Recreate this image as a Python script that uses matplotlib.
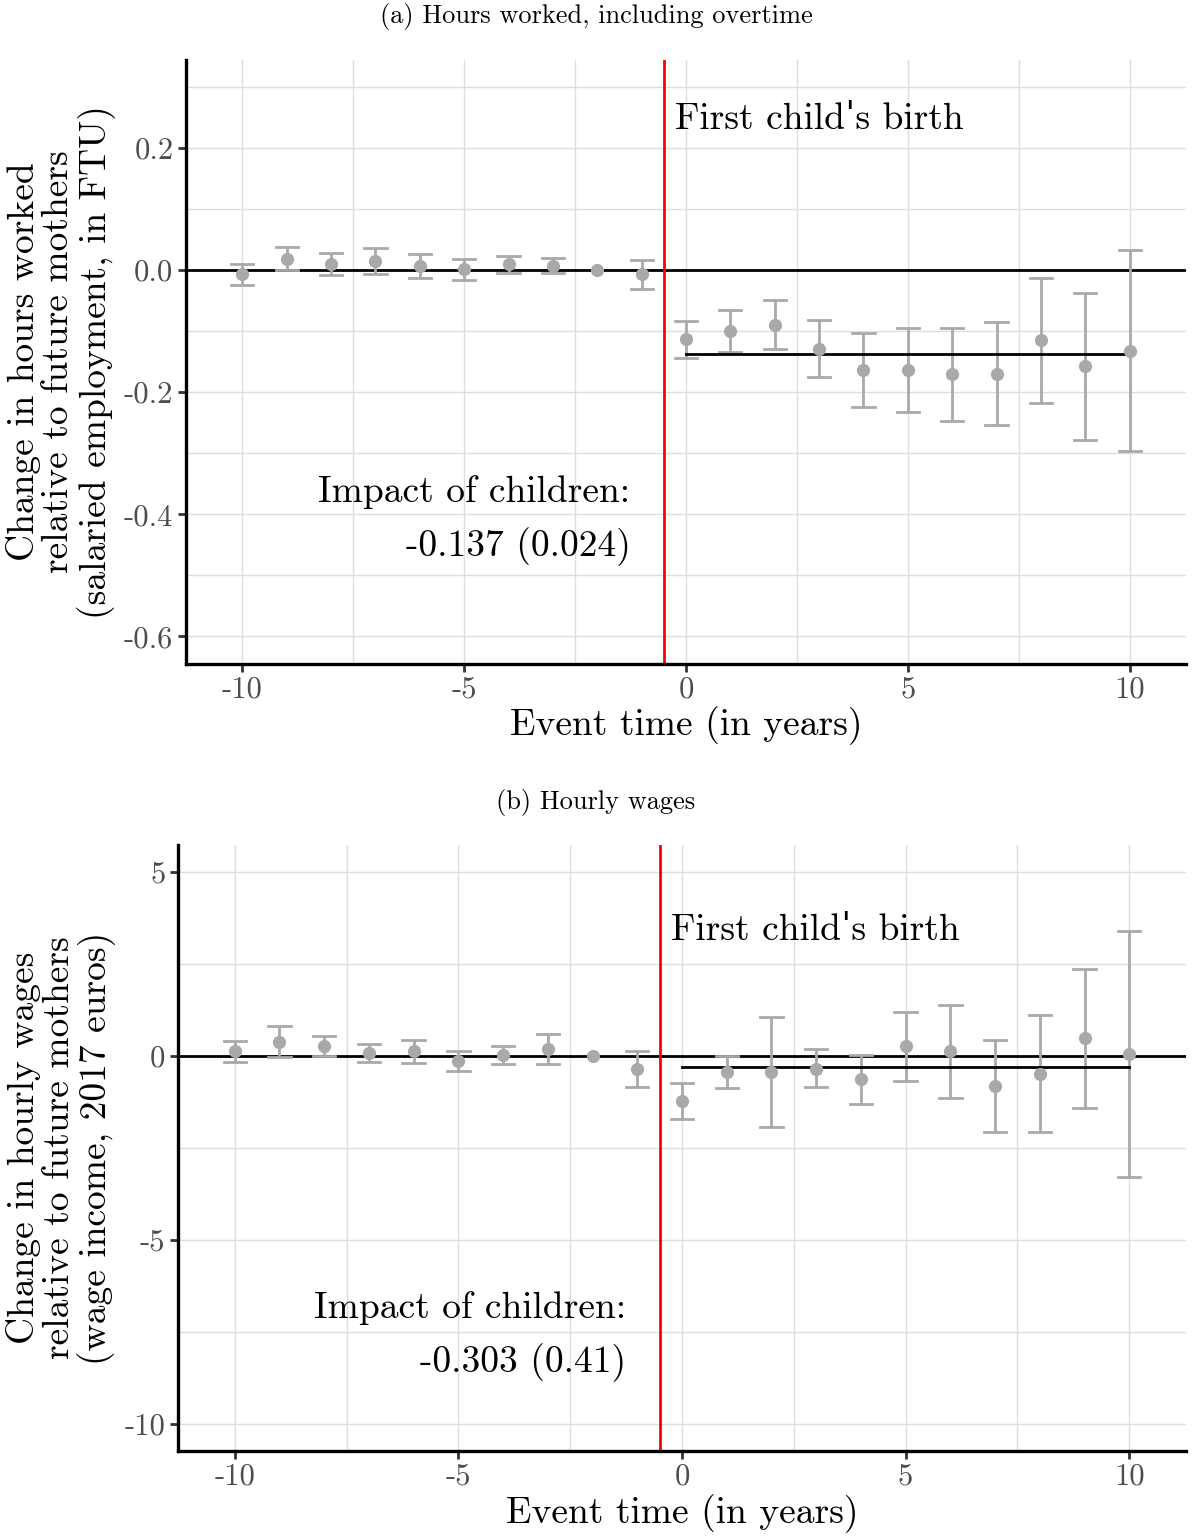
"""
Event-study plots: hours worked and hourly wages around first child's birth.
"""

import matplotlib
matplotlib.use("Agg")
import matplotlib.pyplot as plt
from matplotlib.ticker import FixedLocator

# --- data -------------------------------------------------------------
event_time = list(range(-10, 11))

# (a) hours worked, FTU
hours_coef = [-0.007, 0.018, 0.010, 0.014, 0.007, 0.001, 0.010, 0.007, 0.0, -0.007,
              -0.113, -0.100, -0.090, -0.129, -0.164, -0.164, -0.171, -0.170, -0.115, -0.158, -0.132]
hours_lo = [-0.025, 0.000, -0.009, -0.007, -0.013, -0.016, -0.005, -0.005, 0.0, -0.031,
            -0.144, -0.134, -0.130, -0.176, -0.225, -0.233, -0.248, -0.254, -0.218, -0.278, -0.296]
hours_hi = [0.010, 0.037, 0.028, 0.036, 0.026, 0.018, 0.023, 0.019, 0.0, 0.016,
            -0.083, -0.065, -0.049, -0.082, -0.103, -0.095, -0.095, -0.085, -0.013, -0.037, 0.032]
hours_impact = -0.137
hours_impact_se = 0.024

# (b) hourly wages, 2017 euros
wage_coef = [0.14, 0.39, 0.27, 0.09, 0.14, -0.14, 0.04, 0.19, 0.0, -0.35,
             -1.22, -0.43, -0.43, -0.34, -0.63, 0.27, 0.14, -0.81, -0.48, 0.48, 0.05]
wage_lo = [-0.16, -0.03, 0.00, -0.17, -0.18, -0.42, -0.22, -0.23, 0.0, -0.85,
           -1.72, -0.86, -1.94, -0.85, -1.30, -0.67, -1.14, -2.06, -2.06, -1.42, -3.30]
wage_hi = [0.42, 0.82, 0.53, 0.32, 0.44, 0.14, 0.26, 0.61, 0.0, 0.14,
           -0.73, 0.01, 1.07, 0.18, 0.04, 1.20, 1.38, 0.44, 1.11, 2.37, 3.40]
wage_impact = -0.303
wage_impact_se = 0.41

FONT = ["cmr10", "DejaVu Serif"]
POINT_COLOR = "#a9a9a9"
GRID_COLOR = "#dedede"
# cmr10 turns ' into a curly quote; use a straight tick instead
BIRTH_LABEL = "First child\u02c8s birth"


def draw_panel(ax, coef, lo, hi, impact, se, ylim, yticks, ytick_fmt, yminor,
               ylabel, birth_y, impact_y, decimals):
    # event-time reference line and birth marker
    ax.axhline(0, color="black", lw=2, zorder=2)
    ax.axvline(-0.5, color="#ff0000", lw=2, zorder=2)

    # error bars (skip the omitted period, which has no interval)
    for t, c, l, h in zip(event_time, coef, lo, hi):
        if l == h:
            continue
        ax.plot([t, t], [l, h], color=POINT_COLOR, lw=2, zorder=3, solid_capstyle="butt")
        ax.plot([t - 0.25, t + 0.25], [l, l], color=POINT_COLOR, lw=2, zorder=3)
        ax.plot([t - 0.25, t + 0.25], [h, h], color=POINT_COLOR, lw=2, zorder=3)
    ax.plot(event_time, coef, "o", color=POINT_COLOR, markersize=9.5, mec="none", zorder=4)

    # average post-birth effect
    ax.plot([0, 10], [impact, impact], color="black", lw=2, zorder=3)

    ax.text(-0.25, birth_y, BIRTH_LABEL, fontsize=27, family=FONT,
            ha="left", va="center")
    ax.text(-1.25, impact_y, f"Impact of children:\n{impact:.{decimals}f} ({se})",
            fontsize=27, family=FONT, ha="right", va="center", multialignment="right",
            linespacing=1.65)

    ax.set_xlim(-11.27, 11.27)
    ax.set_ylim(*ylim)
    ax.xaxis.set_major_locator(FixedLocator([-10, -5, 0, 5, 10]))
    ax.xaxis.set_minor_locator(FixedLocator([-7.5, -2.5, 2.5, 7.5]))
    ax.yaxis.set_major_locator(FixedLocator(yticks))
    ax.yaxis.set_minor_locator(FixedLocator(yminor))
    ax.set_xticklabels(["-10", "-5", "0", "5", "10"])
    ax.set_yticklabels([ytick_fmt(v) for v in yticks])
    for lab in ax.get_xticklabels() + ax.get_yticklabels():
        lab.set_family(FONT)
        lab.set_fontsize(22)
        lab.set_color("#4d4d4d")

    ax.grid(True, which="both", color=GRID_COLOR, lw=1, zorder=0)
    ax.set_axisbelow(True)
    ax.tick_params(which="major", length=6, width=2, color="#333333", pad=3)
    ax.tick_params(which="minor", length=0)
    for side in ("top", "right"):
        ax.spines[side].set_visible(False)
    for side in ("left", "bottom"):
        ax.spines[side].set_linewidth(2.4)
        ax.spines[side].set_color("black")

    ax.set_xlabel("Event time (in years)", fontsize=27, family=FONT, labelpad=2)
    ax.set_ylabel(ylabel, fontsize=27, family=FONT, labelpad=6, linespacing=1.05)


fig = plt.figure(figsize=(11.92, 15.39), dpi=100)
ax_a = fig.add_axes([0.156, 0.5686, 0.839, 0.3925])
ax_b = fig.add_axes([0.1493, 0.0572, 0.8457, 0.3937])

draw_panel(ax_a, hours_coef, hours_lo, hours_hi, hours_impact, hours_impact_se,
           ylim=(-0.645, 0.344), yticks=[-0.6, -0.4, -0.2, 0.0, 0.2],
           ytick_fmt=lambda v: f"{v:.1f}", yminor=[-0.5, -0.3, -0.1, 0.1, 0.3],
           ylabel="Change in hours worked\nrelative to future mothers\n(salaried employment, in FTU)",
           birth_y=0.246, impact_y=-0.41, decimals=3)

draw_panel(ax_b, wage_coef, wage_lo, wage_hi, wage_impact, wage_impact_se,
           ylim=(-10.73, 5.73), yticks=[-10, -5, 0, 5],
           ytick_fmt=lambda v: f"{v:d}", yminor=[-7.5, -2.5, 2.5],
           ylabel="Change in hourly wages\nrelative to future mothers\n(wage income, 2017 euros)",
           birth_y=3.40, impact_y=-7.62, decimals=3)

fig.text(0.5, 1 - 16 / 1539, "(a) Hours worked, including overtime", fontsize=19,
         family=FONT, ha="center", va="center")
fig.text(0.5, 1 - 803 / 1539, "(b) Hourly wages", fontsize=19,
         family=FONT, ha="center", va="center")

fig.savefig("out.png", dpi=100)
